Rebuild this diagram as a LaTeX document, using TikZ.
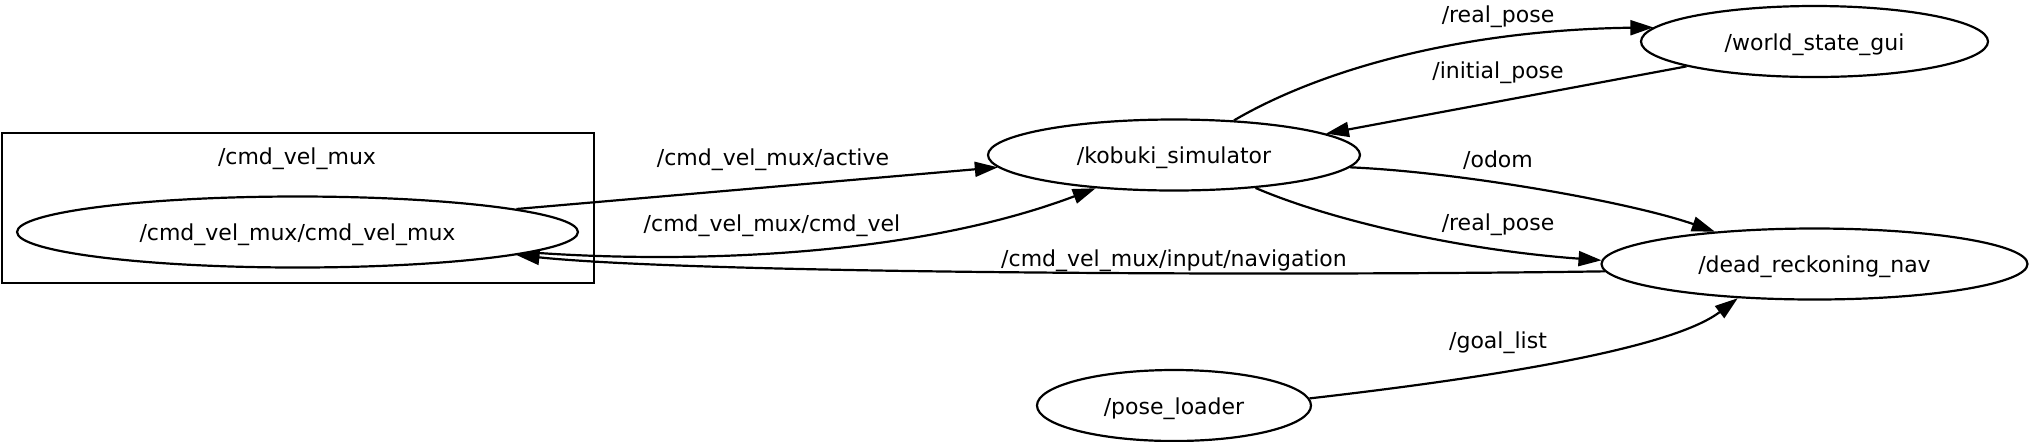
\documentclass[tikz,border=0pt]{standalone}
\usepackage{fontspec}
\setmainfont{DejaVu Sans}
\usetikzlibrary{arrows.meta,shapes.geometric}

\begin{document}
\begin{tikzpicture}[x=0.5pt,y=-0.5pt,
  font=\fontsize{11}{13}\selectfont,
  nd/.style={ellipse, draw, line width=1.1pt, inner sep=0pt, minimum height=35.5pt,
    text height=8.8pt, text depth=0pt},
  tp/.style={-{Triangle[length=11.5pt,width=7.5pt]}, line width=1.1pt},
  lbl/.style={inner sep=0pt}]
\useasboundingbox (0,0) rectangle (2030,441);
% cluster
\node[draw, line width=1.1pt, minimum width=296pt, minimum height=75pt] (grp) at (298,208) {};
\node[lbl] (grplbl) at (297,159) {/cmd\_vel\_mux};
% nodes
\node[nd, minimum width=280.5pt] (mux) at (297.5,232) {/cmd\_vel\_mux/cmd\_vel\_mux};
\node[nd, minimum width=186pt] (kob) at (1174,155) {/kobuki\_simulator};
\node[nd, minimum width=173.5pt] (wsg) at (1814.5,41.5) {/world\_state\_gui};
\node[nd, minimum width=213pt] (drn) at (1814.5,264) {/dead\_reckoning\_nav};
\node[nd, minimum width=137pt] (pl) at (1174,405.5) {/pose\_loader};
% topics
\draw[tp] (mux.6) -- (kob.184);
\draw[tp] (mux.-5.5) .. controls (660,262) and (900,262) .. (kob.203);
\draw[tp] (drn.182) .. controls (1300,276) and (700,274) .. (mux.-6.5);
\draw[tp] (kob.30) .. controls (1320,70) and (1460,30) .. (wsg.175);
\draw[tp] (wsg.191) -- (kob.8.5);
\draw[tp] (kob.-4.4) .. controls (1460,172) and (1630,202) .. (drn.162);
\draw[tp] (kob.-22) .. controls (1330,220) and (1460,250) .. (drn.179);
\draw[tp] (pl.3) .. controls (1470,380) and (1669,351) .. (drn.204);
% labels
\node[lbl] (lact) at (773,160) {/cmd\_vel\_mux/active};
\node[lbl] (lcmd) at (772,226) {/cmd\_vel\_mux/cmd\_vel};
\node[lbl] (lnav) at (1174,261) {/cmd\_vel\_mux/input/navigation};
\node[lbl] (lrp1) at (1498,17) {/real\_pose};
\node[lbl] (linit) at (1498,73) {/initial\_pose};
\node[lbl] (lodom) at (1498,160) {/odom};
\node[lbl] (lrp2) at (1498,225) {/real\_pose};
\node[lbl] (lgoal) at (1498,343) {/goal\_list};
\end{tikzpicture}
\end{document}
